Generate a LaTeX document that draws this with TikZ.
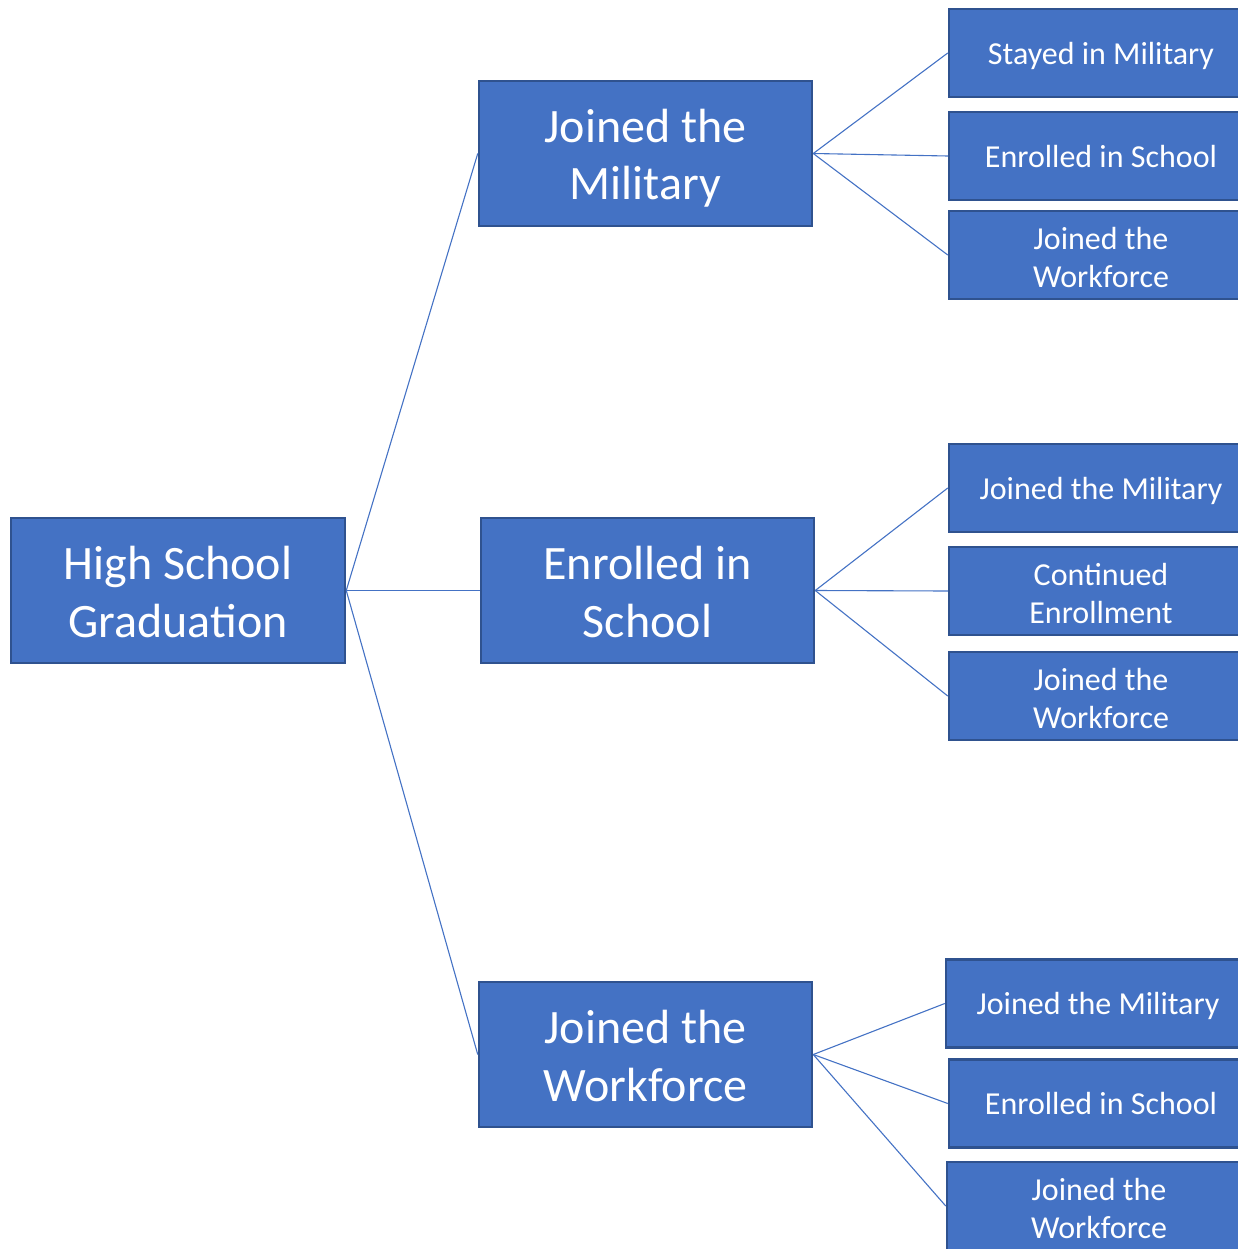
\documentclass[tikz,border=0pt]{standalone}
\usepackage{fontspec}
\setmainfont{Carlito}
\definecolor{boxfill}{HTML}{4472C4}
\definecolor{boxline}{HTML}{2F528F}
\newcommand\twoline[2]{\begin{tabular}[t]{@{}c@{}}#1\\#2\end{tabular}}
\begin{document}
\begin{tikzpicture}[x=1pt,y=-1pt,
  boxbase/.style={draw=boxline,line width=2.5pt,fill=boxfill,text=white,inner sep=0pt},
  bigbox/.style={boxbase,minimum width=333pt,minimum height=145pt,
    font=\fontsize{48}{57.5}\selectfont,text height=0pt,text depth=22pt},
  leafbox/.style={boxbase,minimum width=304pt,minimum height=88pt,
    font=\fontsize{32}{37.4}\selectfont,text height=22.6pt,text depth=0pt},
  leaftwo/.style={leafbox,text height=0pt,text depth=10.5pt},
  link/.style={draw=boxfill,line width=1.1pt}]
\useasboundingbox (0,0) rectangle (1237,1249);
\node[bigbox,minimum width=334pt] (root) at (178,590.5) {\twoline{High School}{Graduation}};
\node[bigbox] (m1) at (645.5,153.5) {\twoline{Joined the}{Military}};
\node[bigbox] (m2) at (647.5,590.5) {\twoline{Enrolled in}{School}};
\node[bigbox] (m3) at (645.5,1054.5) {\twoline{Joined the}{Workforce}};
\node[leafbox] (l1) at (1101,53) {Stayed in Military};
\node[leafbox] (l2) at (1101,156) {Enrolled in School};
\node[leaftwo] (l3) at (1101,255) {\twoline{Joined the}{Workforce}};
\node[leafbox] (l4) at (1101,488) {Joined the Military};
\node[leaftwo] (l5) at (1101,591) {\twoline{Continued}{Enrollment}};
\node[leaftwo] (l6) at (1101,696) {\twoline{Joined the}{Workforce}};
\node[leafbox] (l7) at (1098,1003.5) {Joined the Military};
\node[leafbox] (l8) at (1101,1103.5) {Enrolled in School};
\node[leaftwo] (l9) at (1099,1206) {\twoline{Joined the}{Workforce}};
\draw[link] (root.east) -- (m1.west);
\draw[link] (root.east) -- (m2.west);
\draw[link] (root.east) -- (m3.west);
\draw[link] (m1.east) -- (l1.west);
\draw[link] (m1.east) -- (l2.west);
\draw[link] (m1.east) -- (l3.west);
\draw[link] (m2.east) -- (l4.west);
\draw[link] (m2.east) -- (l5.west);
\draw[link] (m2.east) -- (l6.west);
\draw[link] (m3.east) -- (l7.west);
\draw[link] (m3.east) -- (l8.west);
\draw[link] (m3.east) -- (l9.west);
\end{tikzpicture}
\end{document}
